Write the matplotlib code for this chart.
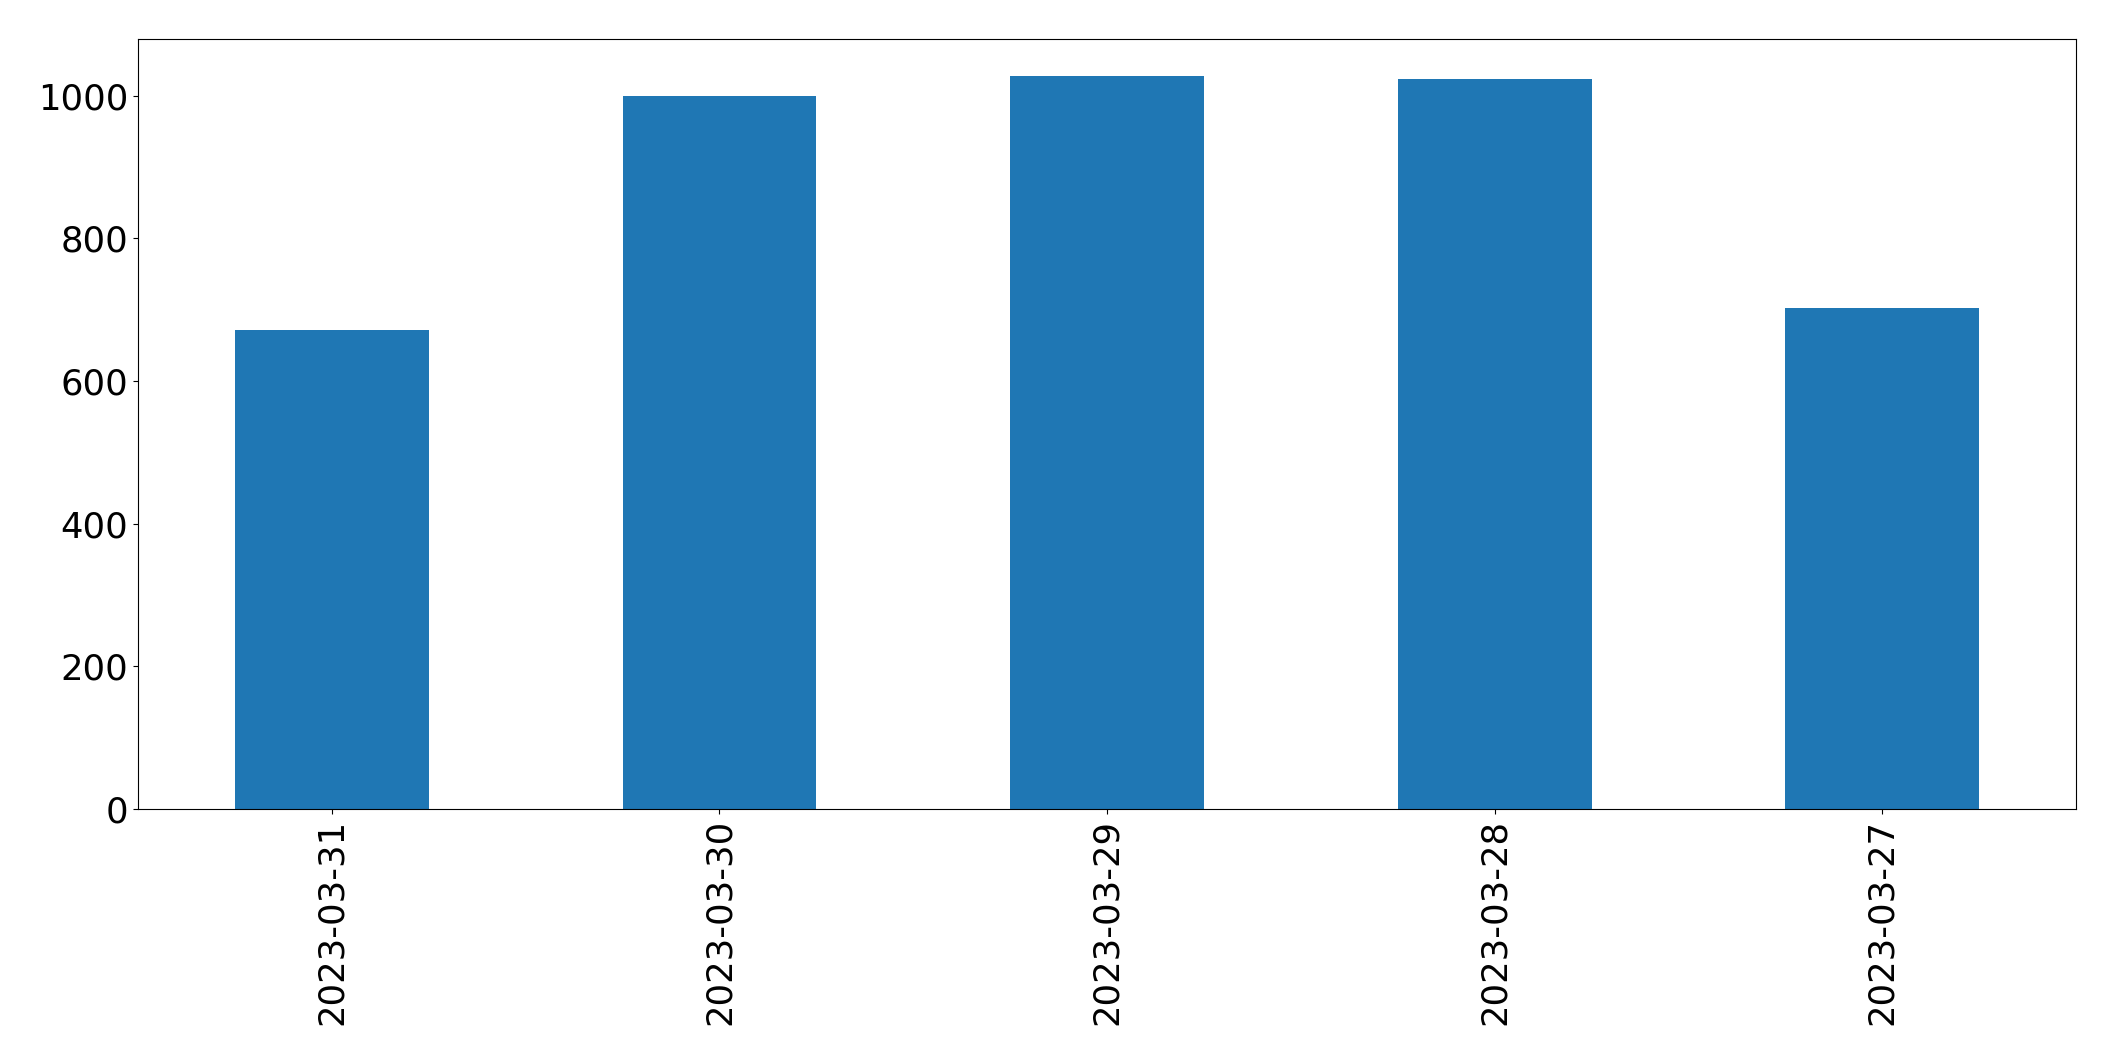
import matplotlib
matplotlib.use("Agg")
import matplotlib.pyplot as plt

dates = ["2023-03-31", "2023-03-30", "2023-03-29", "2023-03-28", "2023-03-27"]
values = [672, 999, 1028, 1024, 703]

plt.rcParams['font.size'] = 25.5
fig = plt.figure(figsize=(21.15, 10.61), dpi=100)
ax = fig.add_axes([138/2115, 1 - 809/1061, (2076-138)/2115, (809-39)/1061])
x = list(range(len(dates)))
ax.bar(x, values, width=0.5, color="#1f77b4")
ax.set_xticks(x)
ax.set_xticklabels(dates, rotation=90)
ax.set_xlim(-0.5, len(dates) - 0.5)
fig.savefig("out.png", dpi=100)
